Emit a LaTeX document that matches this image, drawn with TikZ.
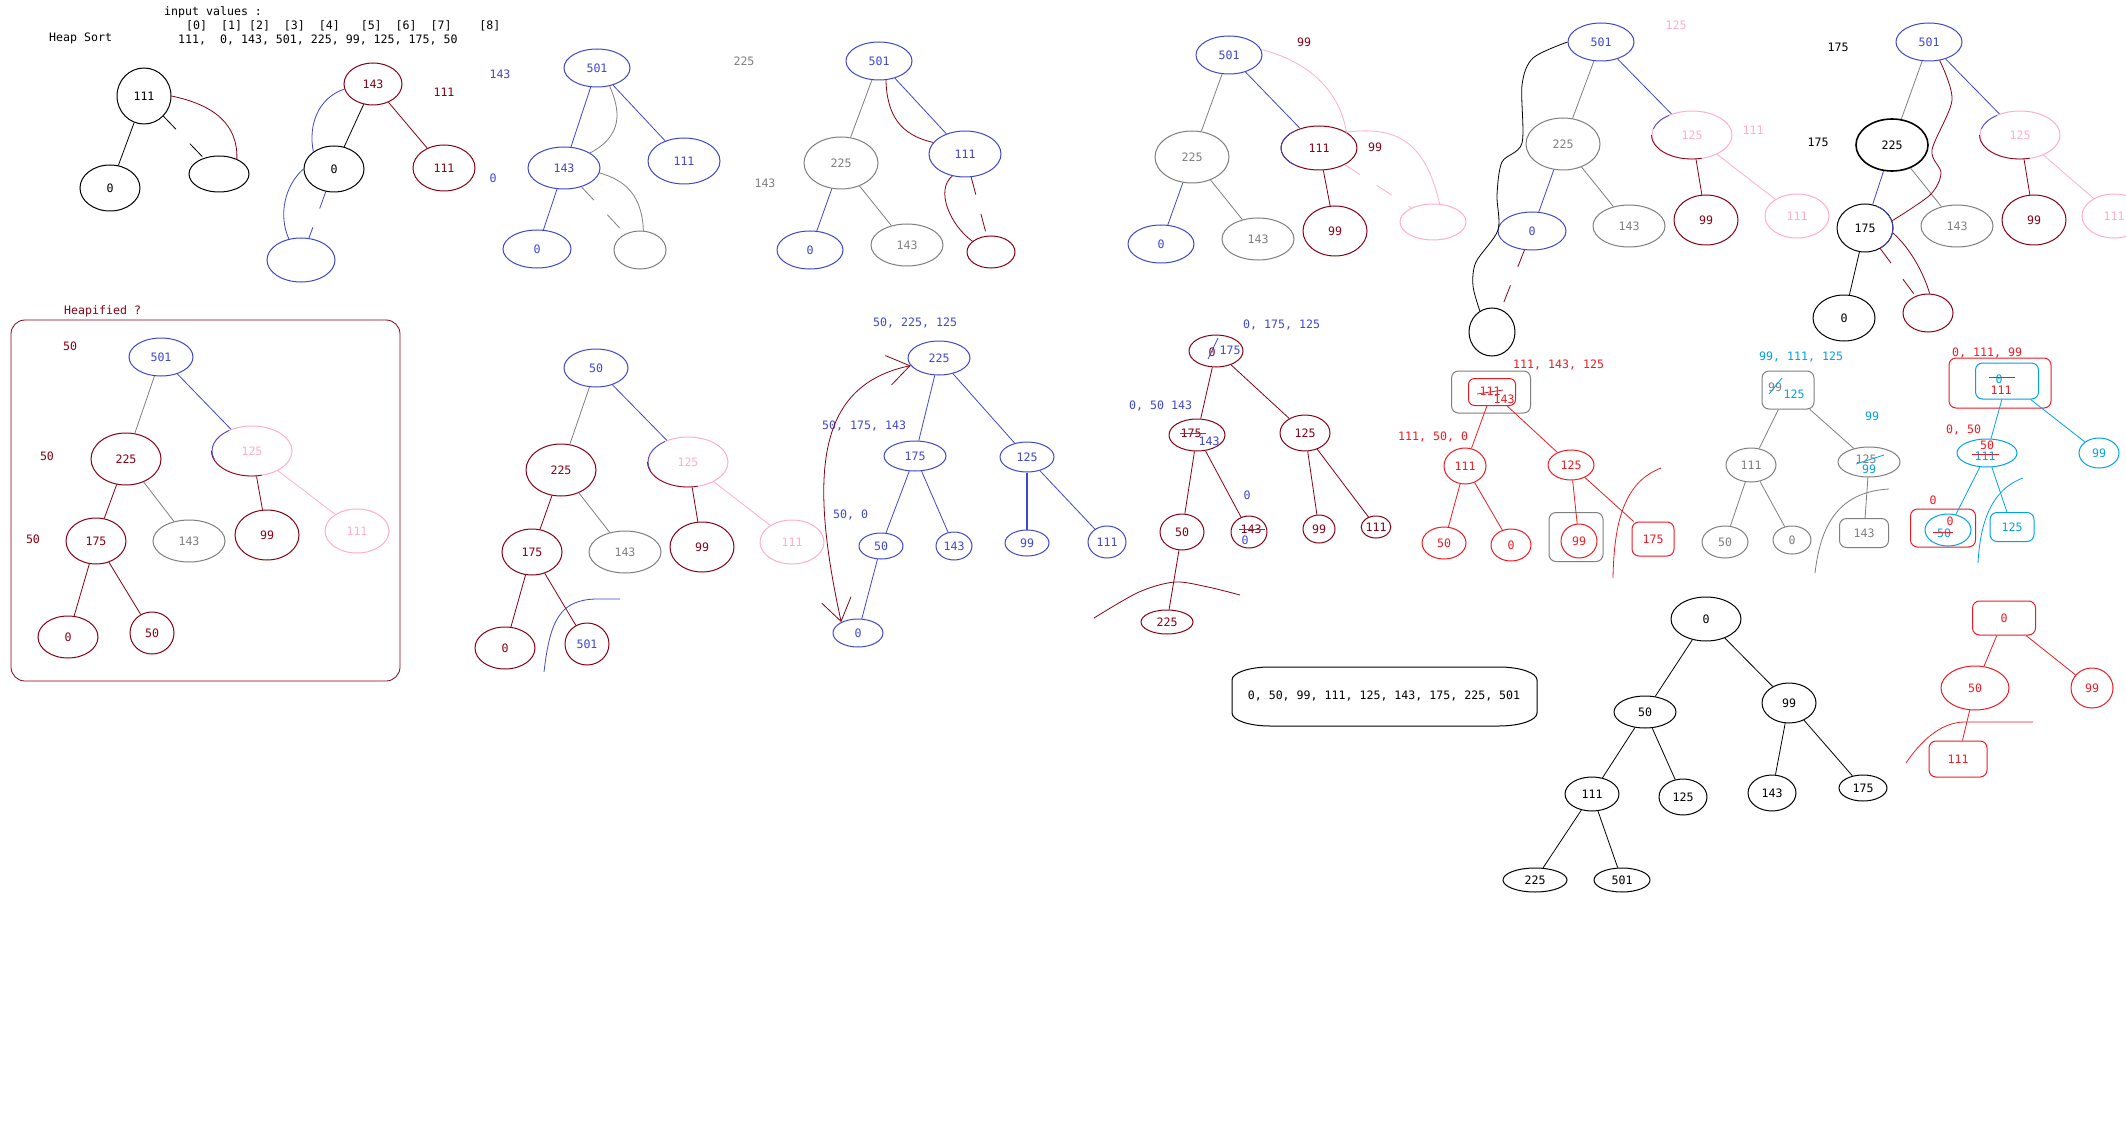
\documentclass[tikz,border=0pt]{standalone}
\usepackage{fontspec}
\usepackage{xcolor}
\usetikzlibrary{positioning,arrows.meta,shapes.geometric,calc}
\newfontfamily\paintmono{DejaVu Sans Mono}
\definecolor{pdark}{RGB}{136,0,21}
\definecolor{pblue}{RGB}{63,72,204}
\definecolor{pgrey}{RGB}{127,127,127}
\definecolor{ppink}{RGB}{255,174,201}
\definecolor{pred}{RGB}{237,28,36}
\definecolor{pcyan}{RGB}{0,162,232}
\tikzset{
  nd/.style={ellipse, draw, inner sep=0pt, line width=1pt},
  sz/.style 2 args={minimum width=#1, minimum height=#2},
  bk/.style={nd, draw=black, text=black},
  bl/.style={nd, draw=pblue, text=pblue},
  dr/.style={nd, draw=pdark, text=pdark},
  gr/.style={nd, draw=pgrey, text=pgrey},
  pk/.style={nd, draw=ppink, text=ppink},
  rd/.style={nd, draw=pred, text=pred},
  cy/.style={nd, draw=pcyan, text=pcyan},
  bx/.style={rectangle, rounded corners=7pt, draw, inner sep=0pt, line width=1pt},
  lbl/.style={inner sep=0pt},
  lnk/.style={line width=0.8pt},
  brk/.style={lnk, dash pattern=on 18pt off 20pt}
}
\begin{document}
\begin{tikzpicture}[x=1pt, y=-1pt, font=\paintmono\fontsize{11.6}{13}\selectfont]
\path[fill=white, use as bounding box] (0,0) rectangle (2126,1126);
% Header
\node[lbl, anchor=west] (title) at (49,38) {Heap Sort};
\node[lbl, anchor=west] (inhead) at (164,12) {input values :};
\node[lbl, anchor=west] (inidx) at (186,26) {[0]~~[1]~[2]~~[3]~~[4]~~~[5]~~[6]~~[7]~~~~[8]};
\node[lbl, anchor=west] (invals) at (178,40) {111,~~0,~143,~501,~225,~99,~125,~175,~50};

% Tree a
\node[bk, sz={54}{56}] (a111) at (144,96) {111};
\node[bk, sz={60}{46}] (a0) at (110,188) {0};
\node[bk, sz={60}{36}] (aE) at (219,174) {};
\draw[lnk] (a111) -- (a0);
\draw[brk] (a111) -- (aE);
\draw[lnk, pdark] (a111.east) .. controls (215,105) and (238,125) .. (aE.40);

% Tree b
\node[dr, sz={58}{42}] (b143) at (373,84) {143};
\node[lbl, text=pdark] (bT0) at (444,92) {111};
\node[bk, sz={60}{46}] (b0) at (334,169) {0};
\node[dr, sz={62}{46}] (b111) at (444,168) {111};
\node[bl, sz={68}{44}] (bE) at (301,260) {};
\node[lbl, text=pblue] (bT1) at (500,74) {143};
\node[lbl, text=pblue] (bT2) at (493,178) {0};
\draw[lnk] (b143) -- (b0);
\draw[lnk, pdark] (b143) -- (b111);
\draw[brk, pblue] (b0) -- (bE);
\draw[lnk, pblue] (b143.190) .. controls (318,98) and (308,125) .. (b0.140);
\draw[lnk, pblue] (b0.west) .. controls (285,185) and (278,215) .. (bE.120);

% Tree c
\node[bl, sz={66}{38}] (c501) at (597,68) {501};
\node[bl, sz={72}{42}] (c143) at (564,168) {143};
\node[bl, sz={72}{46}] (c111) at (684,161) {111};
\node[bl, sz={68}{38}] (c0) at (537,249) {0};
\node[gr, sz={52}{38}] (cE) at (640,250) {};
\node[lbl, text=pgrey] (cT1) at (744,61) {225};
\node[lbl, text=pgrey] (cT2) at (765,183) {143};
\draw[lnk, pblue] (c501) -- (c143);
\draw[lnk, pblue] (c501) -- (c111);
\draw[lnk, pblue] (c143) -- (c0);
\draw[brk, pgrey] (c143) -- (cE);
\draw[lnk, pgrey] (c501.-55) .. controls (620,110) and (624,135) .. (c143.30);
\draw[lnk, pgrey] (c143.-8) .. controls (625,180) and (642,195) .. (cE.80);

% Tree d
\node[bl, sz={66}{38}] (d501) at (879,61) {501};
\node[gr, sz={74}{52}] (d225) at (841,163) {225};
\node[bl, sz={72}{46}] (d111) at (965,154) {111};
\node[bl, sz={66}{38}] (d0) at (810,250) {0};
\node[gr, sz={72}{42}] (d143) at (907,245) {143};
\node[dr, sz={48}{32}] (dE) at (991,252) {};
\draw[lnk, pgrey] (d501) -- (d225);
\draw[lnk, pblue] (d501) -- (d111);
\draw[lnk, pblue] (d225) -- (d0);
\draw[lnk, pgrey] (d225) -- (d143);
\draw[brk, pdark] (d111) -- (dE);
\draw[lnk, pdark] (d501.-70) .. controls (887,115) and (900,135) .. (d111.160);
\draw[lnk, pdark] (d111.-120) .. controls (935,190) and (950,225) .. (dE.150);

% Tree e
\node[bl, sz={66}{38}] (e501) at (1229,55) {501};
\node[lbl, text=pdark] (eT1) at (1304,42) {99};
\node[gr, sz={74}{52}] (e225) at (1192,157) {225};
\node[dr, sz={76}{44}] (e111) at (1319,148) {111};
\node[lbl, text=pdark] (eT2) at (1375,147) {99};
\node[bl, sz={66}{38}] (e0) at (1161,244) {0};
\node[gr, sz={72}{42}] (e143) at (1258,239) {143};
\node[dr, sz={64}{50}] (e99) at (1335,231) {99};
\node[pk, sz={66}{36}] (eE) at (1433,222) {};
\draw[lnk, pgrey] (e501) -- (e225);
\draw[lnk, pblue] (e501) -- (e111);
\draw[lnk, pblue] (e225) -- (e0);
\draw[lnk, pgrey] (e225) -- (e143);
\draw[lnk, pdark] (e111) -- (e99);
\draw[brk, ppink] (e111) -- (eE);
\draw[lnk, ppink] (e501.10) .. controls (1310,62) and (1340,92) .. (e111.30) .. controls (1395,126) and (1425,140) .. (eE.70);
\draw[lnk, pblue] (e111.center) ++(230:38 and 22) arc[start angle=230, end angle=130, x radius=38, y radius=22];

% Tree f
\node[bl, sz={66}{38}] (f501) at (1601,42) {501};
\node[lbl, text=ppink] (fT1) at (1676,25) {125};
\node[gr, sz={74}{52}] (f225) at (1563,144) {225};
\node[pk, sz={80}{48}] (f125) at (1692,135) {125};
\node[lbl, text=ppink] (fT2) at (1753,130) {111};
\node[bl, sz={68}{38}] (f0) at (1532,231) {0};
\node[gr, sz={72}{42}] (f143) at (1629,226) {143};
\node[dr, sz={64}{50}] (f99) at (1706,220) {99};
\node[pk, sz={64}{44}] (f111) at (1797,216) {111};
\node[bk, sz={46}{48}] (fE) at (1492,332) {};
\draw[lnk, pgrey] (f501) -- (f225);
\draw[lnk, pblue] (f501) -- (f125);
\draw[lnk, pblue] (f225) -- (f0);
\draw[lnk, pgrey] (f225) -- (f143);
\draw[lnk, pdark] (f125) -- (f99);
\draw[lnk, ppink] (f125) -- (f111);
\draw[brk, pdark] (f0) -- (fE);
\draw[lnk, pdark] (f125.west) arc[start angle=180, end angle=75, x radius=40, y radius=24];
\draw[lnk, pblue] (f125.center) ++(235:40 and 24) arc[start angle=235, end angle=195, x radius=40, y radius=24];
\draw[lnk] plot[smooth] coordinates {(f501.west) (1533,58) (1522,85) (1522,143) (1502,162) (1497,195) (1498,230) (1476,262) (1473,286) (fE.120)};

% Tree g
\node[lbl] (gT1) at (1838,47) {175};
\node[bl, sz={66}{38}] (g501) at (1929,42) {501};
\node[bk, sz={72}{52}, line width=1.6pt] (g225) at (1892,145) {225};
\node[lbl] (gT2) at (1818,142) {175};
\node[pk, sz={80}{48}] (g125) at (2020,135) {125};
\node[bk, sz={56}{48}] (g175) at (1865,228) {175};
\node[gr, sz={72}{42}] (g143) at (1957,226) {143};
\node[dr, sz={64}{50}] (g99) at (2034,220) {99};
\node[pk, sz={64}{44}] (g111) at (2114,216) {111};
\node[bk, sz={62}{46}] (g0) at (1844,318) {0};
\node[dr, sz={50}{38}] (gE) at (1928,313) {};
\draw[lnk, pgrey] (g501) -- (g225);
\draw[lnk, pblue] (g501) -- (g125);
\draw[lnk, pblue] (g225) -- (g175);
\draw[lnk, pgrey] (g225) -- (g143);
\draw[lnk, pdark] (g125) -- (g99);
\draw[lnk, ppink] (g125) -- (g111);
\draw[lnk] (g175) -- (g0);
\draw[brk, pdark] (g175) -- (gE);
\draw[lnk, pdark] plot[smooth] coordinates {(g501.-60) (1952,100) (1932,150) (1941,173) (1930,195) (g175.15)};
\draw[lnk, pdark] (g175.-10) .. controls (1912,250) and (1924,275) .. (gE.85);
\draw[lnk, pblue] (g175.center) ++(-65:28 and 24) arc[start angle=-65, end angle=55, x radius=28, y radius=24];
\draw[lnk, pdark] (g125.west) arc[start angle=180, end angle=75, x radius=40, y radius=24];
\draw[lnk, pblue] (g125.center) ++(235:40 and 24) arc[start angle=235, end angle=195, x radius=40, y radius=24];

% Tree h (heapified)
\node[lbl, anchor=west, text=pdark] (hT) at (64,311) {Heapified ?};
\draw[lnk, pdark, rounded corners=14pt] (11,320) rectangle (400,681);
\node[lbl, text=pdark] (hT1) at (70,346) {50};
\node[lbl, text=pdark] (hT2) at (47,456) {50};
\node[lbl, text=pdark] (hT3) at (33,539) {50};
\node[bl, sz={64}{38}] (h501) at (161,357) {501};
\node[dr, sz={70}{52}] (h225) at (126,459) {225};
\node[pk, sz={80}{50}] (h125) at (252,451) {125};
\node[dr, sz={60}{46}] (h175) at (96,541) {175};
\node[gr, sz={72}{42}] (h143) at (189,541) {143};
\node[dr, sz={64}{50}] (h99) at (267,535) {99};
\node[pk, sz={64}{44}] (h111) at (357,531) {111};
\node[dr, sz={60}{42}] (h0) at (68,637) {0};
\node[dr, sz={44}{42}] (h50) at (152,633) {50};
\draw[lnk, pgrey] (h501) -- (h225);
\draw[lnk, pblue] (h501) -- (h125);
\draw[lnk, pdark] (h225) -- (h175);
\draw[lnk, pgrey] (h225) -- (h143);
\draw[lnk, pdark] (h125) -- (h99);
\draw[lnk, ppink] (h125) -- (h111);
\draw[lnk, pdark] (h175) -- (h0);
\draw[lnk, pdark] (h175) -- (h50);
\draw[lnk, pdark] (h125.west) arc[start angle=180, end angle=75, x radius=40, y radius=25];
\draw[lnk, pblue] (h125.center) ++(235:40 and 25) arc[start angle=235, end angle=160, x radius=40, y radius=25];

% Tree i
\node[bl, sz={64}{38}] (i50) at (596,368) {50};
\node[dr, sz={70}{52}] (i225) at (561,470) {225};
\node[pk, sz={80}{50}] (i125) at (688,462) {125};
\node[dr, sz={60}{46}] (i175) at (532,552) {175};
\node[gr, sz={72}{42}] (i143) at (625,552) {143};
\node[dr, sz={64}{50}] (i99) at (702,547) {99};
\node[pk, sz={64}{44}] (i111) at (792,542) {111};
\node[dr, sz={60}{42}] (i0) at (505,648) {0};
\node[dr, text=pblue, sz={44}{42}] (i501) at (587,644) {501};
\draw[lnk, pgrey] (i50) -- (i225);
\draw[lnk, pblue] (i50) -- (i125);
\draw[lnk, pdark] (i225) -- (i175);
\draw[lnk, pgrey] (i225) -- (i143);
\draw[lnk, pdark] (i125) -- (i99);
\draw[lnk, ppink] (i125) -- (i111);
\draw[lnk, pdark] (i175) -- (i0);
\draw[lnk, pdark] (i175) -- (i501);
\draw[lnk, pdark] (i125.west) arc[start angle=180, end angle=75, x radius=40, y radius=25];
\draw[lnk, pblue] (i125.center) ++(235:40 and 25) arc[start angle=235, end angle=160, x radius=40, y radius=25];
\draw[lnk, pblue] (544,672) .. controls (550,620) and (560,600) .. (596,599) -- (620,599);

% Tree j
\node[lbl, anchor=west, text=pblue] (jT1) at (873,323) {50, 225, 125};
\node[bl, sz={62}{34}] (j225) at (939,358) {225};
\node[lbl, anchor=west, text=pblue] (jT2) at (822,426) {50, 175, 143};
\node[bl, sz={62}{30}] (j175) at (915,456) {175};
\node[bl, sz={54}{30}] (j125) at (1027,457) {125};
\node[lbl, anchor=west, text=pblue] (jT3) at (833,515) {50, 0};
\node[bl, sz={44}{26}] (j50) at (881,546) {50};
\node[bl, sz={36}{28}] (j143) at (954,546) {143};
\node[bl, sz={44}{26}] (j99) at (1027,543) {99};
\node[bl, sz={38}{32}] (j111) at (1107,542) {111};
\node[bl, sz={50}{28}] (j0) at (858,633) {0};
\draw[lnk, pblue] (j225) -- (j175);
\draw[lnk, pblue] (j225) -- (j125);
\draw[lnk, pblue] (j175) -- (j50);
\draw[lnk, pblue] (j175) -- (j143);
\draw[lnk, pblue, line width=1.3pt] (j125) -- (j99);
\draw[lnk, pblue] (j125) -- (j111);
\draw[lnk, pblue] (j50) -- (j0);
\draw[lnk, pdark, {Straight Barb[length=22pt, width=30pt]}-{Straight Barb[length=22pt, width=30pt]}] (j0.147) .. controls (808,470) and (818,385) .. (j225.195);

% Tree k
\node[lbl, anchor=west, text=pblue] (kT1) at (1243,325) {0, 175, 125};
\node[dr, sz={54}{32}] (kA) at (1216,351) {};
\node[lbl, text=pdark] (kA1) at (1212,352) {0};
\node[lbl, text=pblue] (kA2) at (1230,350) {175};
\draw[lnk, pblue] (1218,338) -- (1208,359);
\node[lbl, anchor=west, text=pblue] (kT2) at (1129,406) {0, 50 143};
\node[dr, sz={56}{32}] (kB) at (1197,435) {};
\node[lbl, text=pdark] (kB1) at (1191,433) {175};
\node[lbl, text=pblue] (kB2) at (1209,441) {143};
\draw[lnk, pblue] (1180,433) -- (1206,433);
\node[dr, sz={50}{36}] (k125) at (1305,433) {125};
\node[lbl, text=pblue] (kT3) at (1247,495) {0};
\node[dr, sz={44}{36}] (k50) at (1182,532) {50};
\node[dr, sz={36}{32}] (kC) at (1249,532) {};
\node[lbl, text=pdark] (kC1) at (1251,529) {143};
\node[lbl, text=pblue] (kC2) at (1245,540) {0};
\draw[lnk, pblue] (1239,529) -- (1265,529);
\node[dr, sz={32}{28}] (k99) at (1319,529) {99};
\node[dr, sz={24}{22}] (k111) at (1376,527) {111};
\node[dr, sz={52}{24}] (k225) at (1167,622) {225};
\draw[lnk, pdark] (kA) -- (kB);
\draw[lnk, pdark] (kA) -- (k125);
\draw[lnk, pdark] (kB) -- (k50);
\draw[lnk, pdark] (kB) -- (kC);
\draw[lnk, pdark] (k125) -- (k99);
\draw[lnk, pdark] (k125) -- (k111);
\draw[lnk, pdark] (k50) -- (k225);
\draw[lnk, pdark] plot[smooth] coordinates {(1094,618) (1139,592) (1175,582) (1208,587) (1240,595)};

% Tree l
\node[lbl, anchor=west, text=pred] (lT1) at (1513,365) {111, 143, 125};
\node[bx, draw=pgrey, sz={79}{42}] (lA) at (1491,392) {};
\node[bx, draw=pred, sz={47}{27}, rounded corners=6pt] (lB) at (1492,392) {};
\node[lbl, text=pred] (lB1) at (1490,391) {111};
\node[lbl, text=pred] (lB2) at (1504,399) {143};
\draw[lnk, pred] (1477,394) -- (1503,390);
\node[lbl, anchor=west, text=pred] (lT2) at (1398,437) {111, 50, 0};
\node[rd, sz={42}{36}] (l111) at (1465,466) {111};
\node[rd, sz={46}{30}] (l125) at (1571,465) {125};
\node[rd, sz={44}{32}] (l50) at (1444,543) {50};
\node[rd, sz={40}{32}] (l0) at (1511,545) {0};
\node[bx, draw=pgrey, sz={54}{49}] (lC) at (1576,537) {};
\node[rd, sz={36}{34}] (l99) at (1579,541) {99};
\node[bx, draw=pred, text=pred, sz={42}{34}] (l175) at (1653,539) {175};
\draw[lnk, pred] (lB) -- (l111);
\draw[lnk, pred] (lB) -- (l125);
\draw[lnk, pred] (l111) -- (l50);
\draw[lnk, pred] (l111) -- (l0);
\draw[lnk, pred] (l125) -- (l99);
\draw[lnk, pred] (l125) -- (l175);
\draw[lnk, pred] (1613,578) .. controls (1614,520) and (1625,482) .. (1661,468);

% Tree m
\node[lbl, anchor=west, text=pcyan] (mT1) at (1759,357) {99, 111, 125};
\node[bx, draw=pgrey, sz={52}{38}] (mA) at (1788,390) {};
\node[lbl, text=pgrey] (mA1) at (1775,387) {99};
\node[lbl, text=pcyan] (mA2) at (1794,394) {125};
\draw[lnk, pcyan] (1769,394) -- (1782,378);
\node[lbl, text=pcyan] (mT2) at (1872,416) {99};
\node[gr, sz={50}{34}] (m111) at (1751,465) {111};
\node[gr, sz={62}{30}] (mB) at (1869,462) {};
\node[lbl, text=pgrey] (mB1) at (1866,459) {125};
\node[lbl, text=pcyan] (mB2) at (1869,469) {99};
\draw[lnk, pcyan] (1856,464) -- (1884,455);
\node[gr, sz={46}{32}] (m50) at (1725,542) {50};
\node[gr, sz={38}{28}] (m0) at (1792,540) {0};
\node[bx, draw=pgrey, text=pgrey, sz={49}{29}] (m143) at (1864,533) {143};
\draw[lnk, pgrey] (mA) -- (m111);
\draw[lnk, pgrey] (mA) -- (mB);
\draw[lnk, pgrey] (m111) -- (m50);
\draw[lnk, pgrey] (m111) -- (m0);
\draw[lnk, pgrey] (mB) -- (m143);
\draw[lnk, pgrey] (1815,573) .. controls (1820,530) and (1835,492) .. (1889,489);

% Tree n
\node[lbl, anchor=west, text=pred] (nT1) at (1952,353) {0, 111, 99};
\node[bx, draw=pred, sz={102}{50}] (nA) at (2000,383) {};
\node[bx, draw=pcyan, sz={63}{36}] (nB) at (2007,381) {};
\node[lbl, text=pcyan] (nB1) at (1999,379) {0};
\node[lbl, text=pred] (nB2) at (2001,390) {111};
\draw[lnk, pred] (1989,377) -- (2015,377);
\node[lbl, anchor=west, text=pred] (nT2) at (1946,430) {0, 50};
\node[cy, sz={60}{28}] (nC) at (1987,453) {};
\node[lbl, text=pred] (nC1) at (1987,445) {50};
\node[lbl, text=pcyan] (nC2) at (1985,456) {111};
\draw[lnk, pred] (1972,454) -- (1999,454);
\node[cy, sz={40}{30}] (n99) at (2099,453) {99};
\node[lbl, text=pred] (nT3) at (1933,500) {0};
\node[bx, draw=pred, sz={65}{38}] (nD) at (1943,528) {};
\node[cy, sz={46}{32}] (nE) at (1948,530) {};
\node[lbl, text=pred] (nE1) at (1950,521) {0};
\node[lbl, text=pcyan] (nE2) at (1944,533) {50};
\draw[lnk, pred] (1933,532) -- (1953,532);
\node[bx, draw=pcyan, text=pcyan, sz={44}{29}] (n125) at (2012,527) {125};
\draw[lnk, pcyan] (nB) -- (nC);
\draw[lnk, pcyan] (nB) -- (n99);
\draw[lnk, pcyan] (nC) -- (nE);
\draw[lnk, pcyan] (nC) -- (n125);
\draw[lnk, pcyan] (1978,563) .. controls (1980,525) and (1990,490) .. (2023,478);

% Sorted result
\node[lbl] (res) at (1384,696) {0, 50, 99, 111, 125, 143, 175, 225, 501};
\draw[line width=1pt] (1232,680) -- (1232,713) arc[start angle=180, end angle=90, x radius=38, y radius=13] -- (1499,726) arc[start angle=90, end angle=0, x radius=38, y radius=13] -- (1537,680) arc[start angle=0, end angle=-90, x radius=38, y radius=13] -- (1270,667) arc[start angle=-90, end angle=-180, x radius=38, y radius=13] -- cycle;

% Tree s
\node[bk, sz={70}{44}] (s0) at (1706,619) {0};
\node[bk, sz={62}{32}] (s50) at (1645,712) {50};
\node[bk, sz={54}{40}] (s99) at (1789,703) {99};
\node[bk, sz={54}{34}] (s111) at (1592,794) {111};
\node[bk, sz={48}{36}] (s125) at (1683,797) {125};
\node[bk, sz={48}{36}] (s143) at (1772,793) {143};
\node[bk, sz={48}{26}] (s175) at (1863,788) {175};
\node[bk, sz={64}{24}] (s225) at (1535,880) {225};
\node[bk, sz={56}{24}] (s501) at (1622,880) {501};
\draw[lnk] (s0) -- (s50);
\draw[lnk] (s0) -- (s99);
\draw[lnk] (s50) -- (s111);
\draw[lnk] (s50) -- (s125);
\draw[lnk] (s99) -- (s143);
\draw[lnk] (s99) -- (s175);
\draw[lnk] (s111) -- (s225);
\draw[lnk] (s111) -- (s501);

% Tree r
\node[bx, draw=pred, text=pred, sz={63}{34}] (r0) at (2004,618) {0};
\node[rd, sz={68}{44}] (r50) at (1975,688) {50};
\node[rd, sz={42}{40}] (r99) at (2092,688) {99};
\node[bx, draw=pred, text=pred, sz={58}{36}] (r111) at (1958,759) {111};
\draw[lnk, pred] (r0) -- (r50);
\draw[lnk, pred] (r0) -- (r99);
\draw[lnk, pred] (r50) -- (r111);
\draw[lnk, pred] (1906,763) .. controls (1925,735) and (1945,722) .. (1965,722) -- (2033,722);
\end{tikzpicture}
\end{document}
